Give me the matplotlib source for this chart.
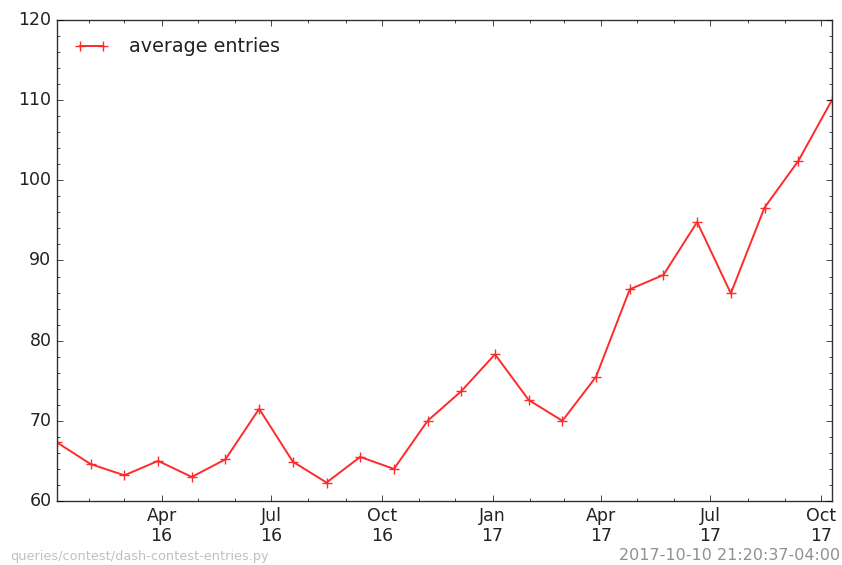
import matplotlib
matplotlib.use("Agg")
import matplotlib.pyplot as plt
import matplotlib.dates as mdates
import pandas as pd

plt.style.use("classic")
plt.rcParams["font.family"] = ["DejaVu Sans"]

dates = ["2016-01-05", "2016-02-02", "2016-03-01", "2016-03-29", "2016-04-26",
         "2016-05-24", "2016-06-21", "2016-07-19", "2016-08-16", "2016-09-13",
         "2016-10-11", "2016-11-08", "2016-12-06", "2017-01-03", "2017-01-31",
         "2017-02-28", "2017-03-28", "2017-04-25", "2017-05-23", "2017-06-20",
         "2017-07-18", "2017-08-15", "2017-09-12", "2017-10-10"]
avg_entries = [67.3, 64.6, 63.2, 65.0, 63.0, 65.2, 71.5, 64.9, 62.3, 65.5,
               64.0, 70.0, 73.7, 78.3, 72.6, 70.0, 75.5, 86.4, 88.2, 94.8,
               85.9, 96.6, 102.4, 110.0]
series_label = "average entries"
source_text = "queries/contest/dash-contest-entries.py"
stamp_text = "2017-10-10 21:20:37-04:00"

x = pd.to_datetime(dates)

fig = plt.figure(figsize=(8.42, 5.65), dpi=100, facecolor="white")
ax = fig.add_axes([0.0677, 0.1133, 0.9203, 0.8513])
ax.plot(x, avg_entries, color="#ff2a2a", marker="+", markersize=7,
        markeredgewidth=1.0, linewidth=1.4, label=series_label)

ax.set_xlim(x[0], x[-1])
ax.set_ylim(60, 120)
ax.xaxis.set_major_locator(mdates.MonthLocator(bymonth=[1, 4, 7, 10]))
ax.xaxis.set_minor_locator(mdates.MonthLocator())
ax.xaxis.set_major_formatter(mdates.DateFormatter("%b\n%y"))
ax.yaxis.set_major_locator(matplotlib.ticker.MultipleLocator(10))
ax.yaxis.set_minor_locator(matplotlib.ticker.MultipleLocator(2))
ax.tick_params(labelsize=12.5, labelcolor="#222222")
for spine in ax.spines.values():
    spine.set_color("#333333")
for lbl in ax.get_xticklabels():
    lbl.set_horizontalalignment("center")

leg = ax.legend(loc="upper left", frameon=False, fontsize=13.8, numpoints=2,
                handlelength=1.8, handletextpad=1.05, borderaxespad=0.5)
for t in leg.get_texts():
    t.set_color("#222222")

fig.text(0.012, 0.004, source_text, color="#c0c0c0", fontsize=9.3,
         ha="left", va="bottom")
fig.text(0.998, 0.004, stamp_text, color="#909090", fontsize=11.5,
         ha="right", va="bottom")

fig.savefig("out.png", dpi=100, facecolor="white")
